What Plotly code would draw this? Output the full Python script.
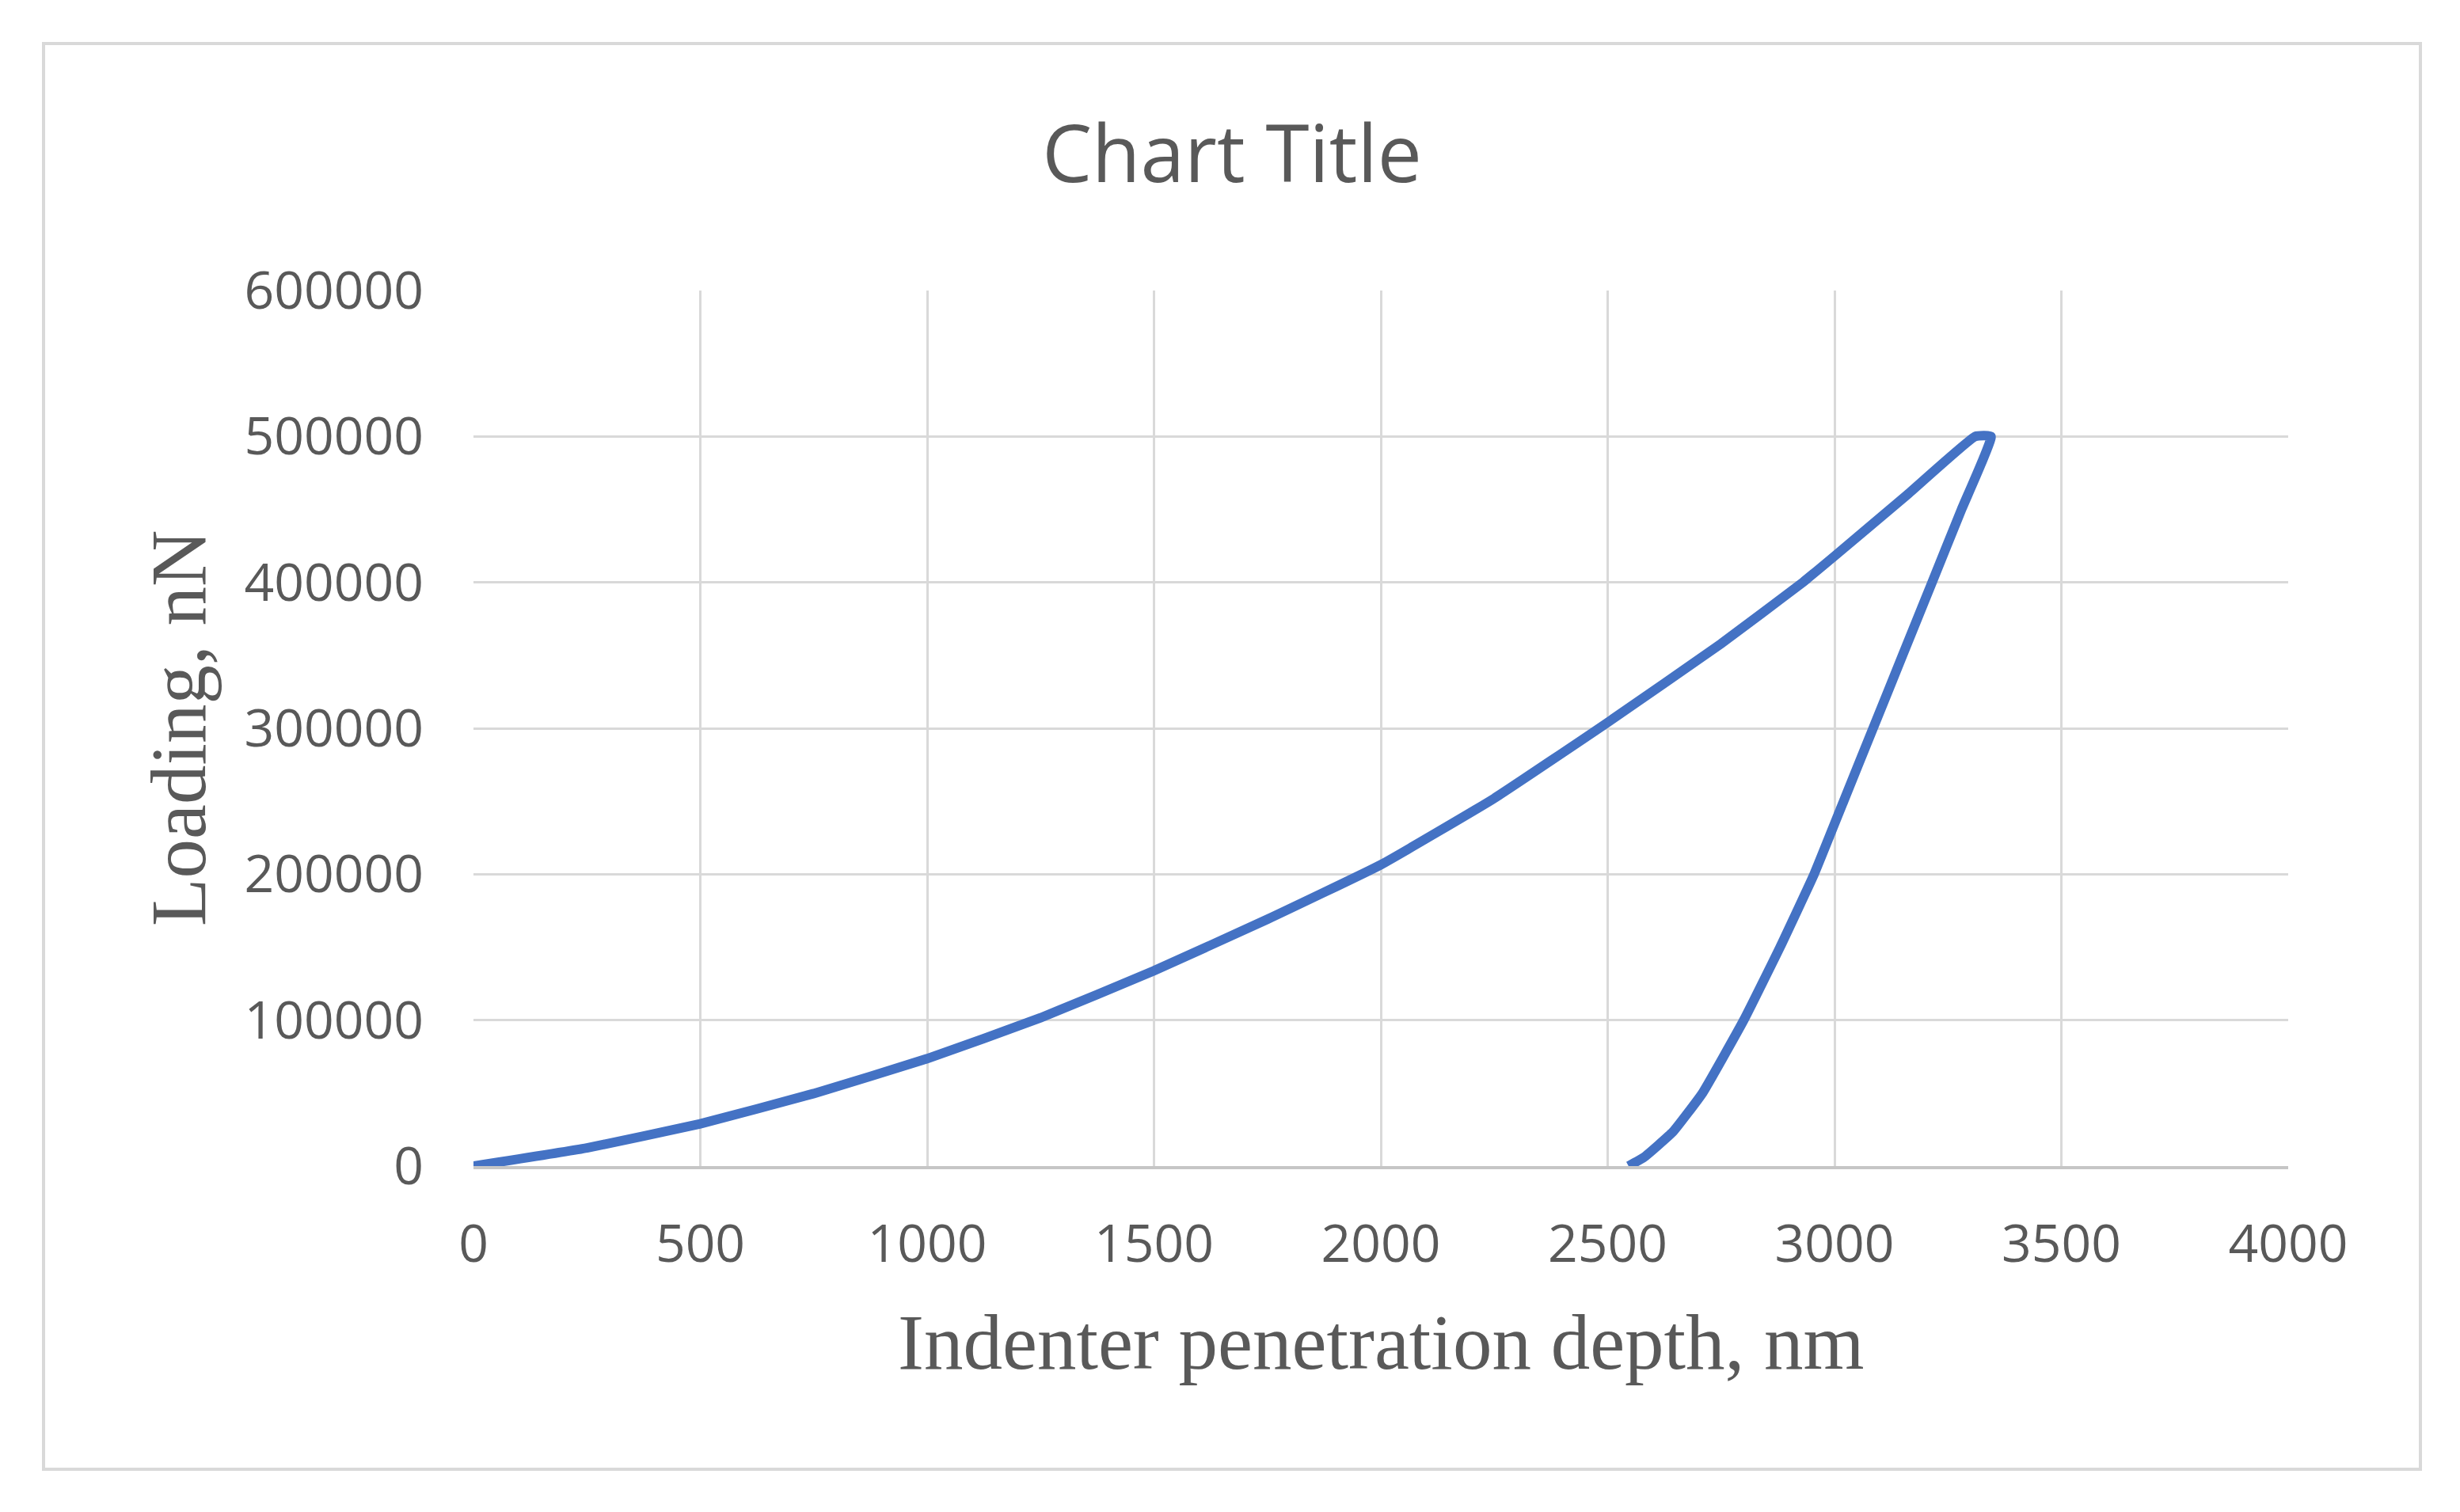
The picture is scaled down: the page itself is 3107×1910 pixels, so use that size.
# coding=utf-8

"""Load / unload curve of an indentation test, redrawn with plotly"""

import plotly.graph_objects as go


###################################################################
# Data (depth in nm, loading in nN)
###################################################################

load_depth = [0, 250, 500, 750, 1000, 1250, 1500, 1750, 2000, 2250, 2500, 2750, 2930, 3000, 3160, 3310]
load_force = [0, 12400, 29000, 49700, 73600, 101600, 133900, 169100, 206500, 252000, 304000, 358000, 400000, 418000, 460000, 500000]

hold_depth = [3310, 3345]
hold_force = [500000, 500000]

unload_depth = [3345, 3280, 3215, 3150, 3085, 3020, 2955, 2880, 2800, 2709, 2644, 2580, 2546]
unload_force = [500000, 450000, 400000, 350000, 300000, 250000, 200000, 150000, 100000, 50000, 23500, 6000, 0]

x_ticks = [0, 500, 1000, 1500, 2000, 2500, 3000, 3500, 4000]
y_ticks = [0, 100000, 200000, 300000, 400000, 500000, 600000]

chart_title = "Chart Title"
x_title = "Indenter penetration depth, nm"
y_title = "Loading, nN"


###################################################################
###################################################################

def build_figure():

    # the page puts the graph 8px in from the top left corner
    off = 8
    W, H = 3107 - off, 1910 - off
    left, right, top, bottom = 598 - off, 217, 367 - off, 437
    pw = W - left - right
    ph = H - top - bottom
    x_pix0 = off + left          # screen x of the plot's left edge
    y_pix0 = off + top + ph      # screen y of the plot's bottom edge

    grey_text = "#595959"
    grid = "#d9d9d9"

    depth = load_depth + hold_depth[1:] + unload_depth[1:]
    force = load_force + hold_force[1:] + unload_force[1:]

    fig = go.Figure()

    fig.add_trace(go.Scatter(
        x=depth,
        y=force,
        mode='lines',
        line=dict(color='#4472C4', width=12, shape='spline', smoothing=0.35),
        hoverinfo='skip',
        showlegend=False
    ))

    tick_font = dict(family="Open Sans", size=66, color=grey_text)

    fig.update_xaxes(
        range=[0, 4000],
        tickvals=x_ticks,
        ticktext=[str(v) for v in x_ticks],
        showgrid=True, gridcolor=grid, gridwidth=3,
        zeroline=False,
        showline=True, linecolor="#c6c6c6", linewidth=4,
        ticks="", ticklabelstandoff=38,
        tickfont=tick_font,
    )
    fig.update_yaxes(
        range=[0, 600000],
        tickvals=y_ticks,
        ticktext=[str(v) for v in y_ticks],
        showgrid=True, gridcolor=grid, gridwidth=3,
        zeroline=False,
        showline=False,
        ticks="", ticklabelstandoff=62,
        tickfont=tick_font,
    )

    # outer chart border
    fig.add_shape(
        type="rect", xref="paper", yref="paper",
        x0=(55 - x_pix0) / pw, x1=(3057 - x_pix0) / pw,
        y0=(y_pix0 - 1856) / ph, y1=(y_pix0 - 55) / ph,
        line=dict(color="#d9d9d9", width=4),
        fillcolor="rgba(0,0,0,0)",
        layer="below",
    )

    serif = dict(family="Liberation Serif", size=99, color=grey_text)

    fig.add_annotation(
        text=x_title, xref="paper", yref="paper",
        x=0.5, y=(y_pix0 - 1695) / ph,
        xanchor="center", yanchor="middle",
        showarrow=False, font=serif,
    )
    fig.add_annotation(
        text=y_title, xref="paper", yref="paper",
        x=(225 - x_pix0) / pw, y=0.5,
        xanchor="center", yanchor="middle", textangle=-90,
        showarrow=False, font=serif,
    )

    fig.update_layout(
        title=dict(
            text=chart_title,
            x=(1556 - off) / W, xref="container", xanchor="center",
            y=1 - (195 - off) / H, yref="container", yanchor="middle",
            font=dict(family="Open Sans", size=100, color=grey_text),
        ),
        width=W,
        height=H,
        margin=dict(l=left, r=right, t=top, b=bottom, autoexpand=False),
        paper_bgcolor="white",
        plot_bgcolor="white",
        hovermode=False,
    )

    return fig

###################################################################
###################################################################

if __name__ == "__main__":

    fig = build_figure()
    fig.write_html("out.html")
